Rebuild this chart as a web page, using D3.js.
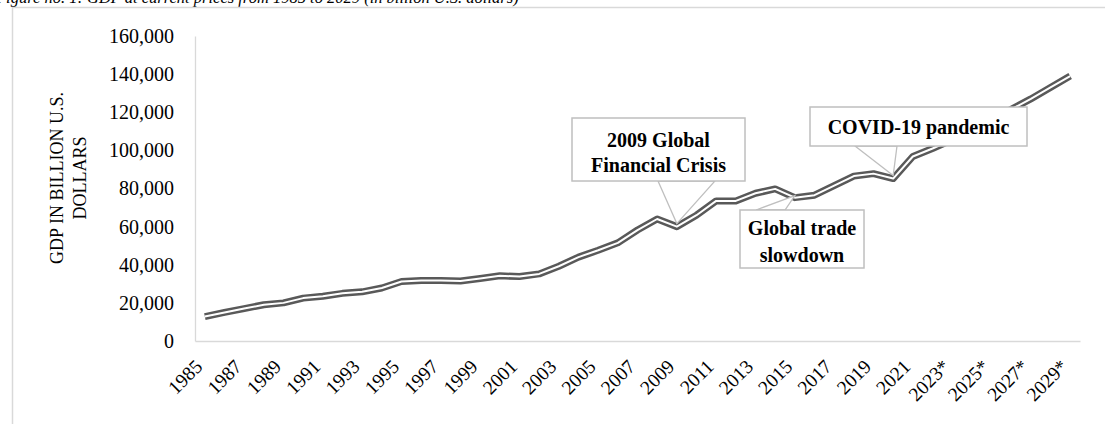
<!DOCTYPE html>
<html>
<head>
<meta charset="utf-8">
<script src="https://cdn.jsdelivr.net/npm/d3@7"></script>
<style>
  html, body { margin: 0; padding: 0; background: #fff; }
  svg { display: block; }
  text { font-family: "Liberation Serif", "Times New Roman", serif; }
</style>
</head>
<body>
<svg id="chart" width="1105" height="424"></svg>
<script>
// ---- data ----
const years = [
  "1985","1986","1987","1988","1989","1990","1991","1992","1993","1994",
  "1995","1996","1997","1998","1999","2000","2001","2002","2003","2004",
  "2005","2006","2007","2008","2009","2010","2011","2012","2013","2014",
  "2015","2016","2017","2018","2019","2020","2021","2022","2023*","2024*",
  "2025*","2026*","2027*","2028*","2029*"
];
const gdp = [
  12800, 15000, 17000, 19000, 20000, 22500, 23500, 25000, 25800, 27800,
  31200, 31800, 31700, 31500, 32800, 34200, 33800, 35200, 39200, 44000,
  47600, 51500, 58200, 64000, 60000, 66000, 73500, 73500, 77500, 79800,
  75200, 76500, 81500, 86500, 87800, 85200, 96800, 101000, 105500, 110500,
  116000, 121500, 127000, 133000, 139000
];
const yTicks = [0, 20000, 40000, 60000, 80000, 100000, 120000, 140000, 160000];
const xTickLabels = years.filter((d, i) => i % 2 === 0);
const titleText = "Figure no. 1: GDP at current prices from 1985 to 2029 (in billion U.S. dollars)";
const yAxisTitle = ["GDP IN BILLION U.S.", "DOLLARS"];
const annotationLabels = [
  { year: "2009", lines: ["2009 Global", "Financial Crisis"] },
  { year: "2020", lines: ["COVID-19 pandemic"] },
  { year: "2015", lines: ["Global trade", "slowdown"] }
];

// ---- layout ----
const svg = d3.select("#chart");
const plot = { left: 195, right: 1080, top: 36, bottom: 341 };
const boxLayout = [
  { x0: 572, y0: 118, x1: 745, y1: 181, base: [[658, 181], [715, 181]], tipDy: -3, lineY: [140, 165] },
  { x0: 810, y0: 107, x1: 1027, y1: 146, base: [[855, 146], [897, 146]], tipDy: -3, lineY: [127] },
  { x0: 740, y0: 210, x1: 864, y1: 268, base: [[756, 210], [785, 210]], tipDy: -2, lineY: [228, 255] }
];

const x = d3.scaleBand().domain(years).range([plot.left, plot.right]).paddingInner(0).paddingOuter(0);
const y = d3.scaleLinear().domain([0, 160000]).range([plot.bottom, plot.top]);
const cx = d => x(d) + x.bandwidth() / 2;

// title (cut at top, as in the reference)
svg.append("text")
  .attr("x", -4).attr("y", 3)
  .attr("font-size", 16.5).attr("font-style", "italic").attr("fill", "#000")
  .text(titleText);

// outer chart border
svg.append("rect")
  .attr("x", 12.5).attr("y", 7.5).attr("width", 1200).attr("height", 600)
  .attr("fill", "none").attr("stroke", "#d9d9d9").attr("stroke-width", 1.5);

// y axis
const yAxis = svg.append("g").attr("transform", `translate(${plot.left},0)`)
  .call(d3.axisLeft(y).tickValues(yTicks).tickSize(0).tickPadding(21).tickFormat(d3.format(",")));
yAxis.select(".domain").attr("stroke", "#d9d9d9").attr("stroke-width", 1.3);
yAxis.selectAll("text").attr("font-size", 20).attr("fill", "#000")
  .attr("font-family", "'Liberation Serif', serif");

// x axis
const xAxis = svg.append("g").attr("transform", `translate(0,${plot.bottom})`)
  .call(d3.axisBottom(x).tickValues(xTickLabels).tickSize(0).tickPadding(0));
xAxis.select(".domain").attr("stroke", "#d9d9d9").attr("stroke-width", 1.3);
xAxis.selectAll("text")
  .attr("font-size", 19.5).attr("fill", "#000")
  .attr("font-family", "'Liberation Serif', serif")
  .attr("text-anchor", "end")
  .attr("dy", "0.35em")
  .attr("transform", "translate(-6,22) rotate(-45)");

// y axis title
const yt = svg.append("text")
  .attr("transform", "translate(63,178) rotate(-90)")
  .attr("text-anchor", "middle").attr("font-size", 18).attr("fill", "#000");
yAxisTitle.forEach((t, i) => {
  yt.append("tspan").attr("x", 0).attr("dy", i === 0 ? 0 : 23).text(t);
});

// line (compound: dark outer, white inner)
const line = d3.line().x((d, i) => cx(years[i])).y(d => y(d));
svg.append("path").datum(gdp).attr("d", line)
  .attr("fill", "none").attr("stroke", "#595959").attr("stroke-width", 7)
  .attr("stroke-linejoin", "round");
svg.append("path").datum(gdp).attr("d", line)
  .attr("fill", "none").attr("stroke", "#fff").attr("stroke-width", 2)
  .attr("stroke-linejoin", "round");

// annotations
annotationLabels.forEach((a, k) => {
  const L = boxLayout[k];
  const i = years.indexOf(a.year);
  const tip = [cx(a.year), y(gdp[i]) + L.tipDy];
  svg.append("path")
    .attr("d", d3.line()([L.base[0], tip, L.base[1]]) + "Z")
    .attr("fill", "#fff").attr("stroke", "#bfbfbf").attr("stroke-width", 1.3);
  svg.append("rect")
    .attr("x", L.x0).attr("y", L.y0).attr("width", L.x1 - L.x0).attr("height", L.y1 - L.y0)
    .attr("fill", "#fff").attr("stroke", "#bfbfbf").attr("stroke-width", 1.5);
  a.lines.forEach((t, j) => {
    svg.append("text")
      .attr("x", (L.x0 + L.x1) / 2).attr("y", L.lineY[j])
      .attr("dy", "0.35em")
      .attr("text-anchor", "middle").attr("font-size", 20).attr("font-weight", "bold")
      .attr("fill", "#000").text(t);
  });
});
</script>
</body>
</html>
